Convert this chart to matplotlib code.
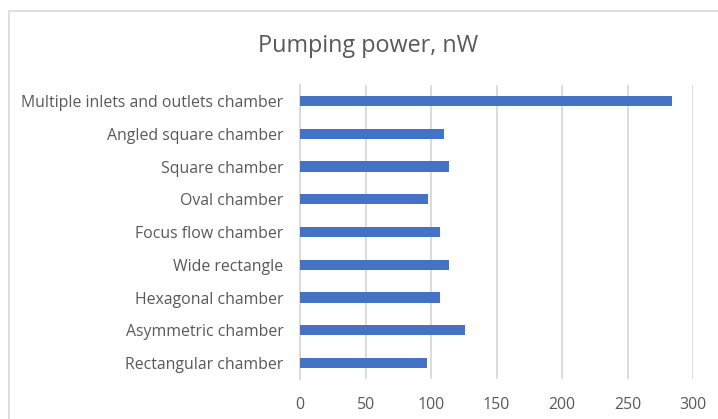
import matplotlib
matplotlib.use("Agg")
import matplotlib.pyplot as plt
from matplotlib.patches import Rectangle

# Categories listed bottom to top, as drawn on the chart
chambers = [
    "Rectangular chamber",
    "Asymmetric chamber",
    "Hexagonal chamber",
    "Wide rectangle",
    "Focus flow chamber",
    "Oval chamber",
    "Square chamber",
    "Angled square chamber",
    "Multiple inlets and outlets chamber",
]
power_nw = [97, 125.5, 107, 113.5, 107, 98, 113.5, 109.5, 284]
x_ticks = [0, 50, 100, 150, 200, 250, 300]

BAR = "#4472C4"
GRID = "#D9D9D9"
TEXT = "#595959"

plt.rcParams["font.family"] = ["Open Sans", "DejaVu Sans"]

fig = plt.figure(figsize=(7.18, 4.19), dpi=100)
ax = fig.add_axes([0.4178, 0.0945, 0.5478, 0.7035])

ax.barh(range(len(chambers)), power_nw, height=0.313, color=BAR, zorder=3)
ax.set_yticks(range(len(chambers)))
ax.set_yticklabels(chambers)
ax.set_ylim(-0.5, len(chambers) - 0.5)
ax.set_xlim(0, 300)
ax.set_xticks(x_ticks)

ax.grid(axis="x", color=GRID, lw=1.3, zorder=0)
ax.tick_params(axis="both", length=0, colors=TEXT, labelsize=11.4)
ax.tick_params(axis="y", pad=12)
ax.tick_params(axis="x", pad=13)
for side in ("top", "right", "bottom"):
    ax.spines[side].set_visible(False)
ax.spines["left"].set_color(GRID)
ax.spines["left"].set_linewidth(1.3)

fig.text(0.513, 0.890, "Pumping power, nW", ha="center", va="center",
         fontsize=16.8, color=TEXT)

# chart area border (cut off on right and bottom in the original)
fig.patches.append(Rectangle((8.5 / 718, -0.2), 1.2, 0.2 + 1 - 11.5 / 419,
                             transform=fig.transFigure, fill=False,
                             edgecolor=GRID, lw=1.2))

fig.savefig("out.png", dpi=100)
